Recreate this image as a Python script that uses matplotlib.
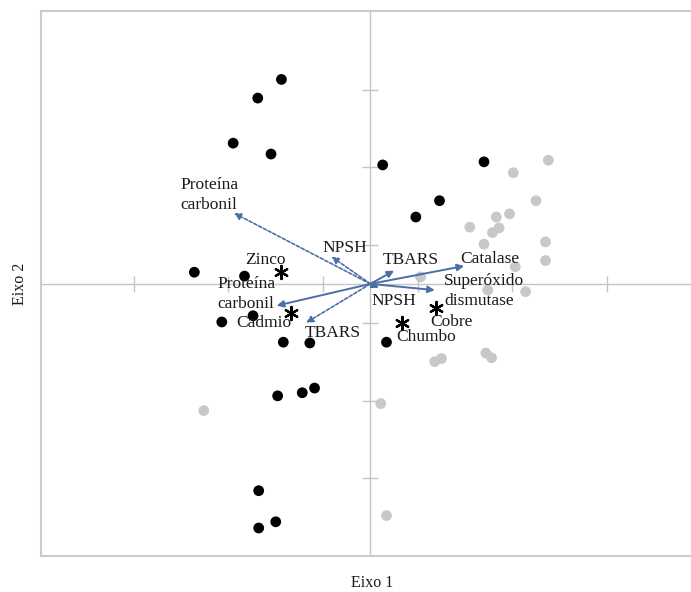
import matplotlib.pyplot as plt

plt.rcParams['font.family'] = ['Liberation Serif', 'DejaVu Serif']

# grupo 1 (pontos pretos)
grupo1_x = [-0.94, -1.19, -1.45, -1.05, 0.13, 1.20, 0.73, 0.48, -1.86, -1.33, -1.24,
            -1.57, -0.92, -0.64, 0.17, -0.98, -0.72, -0.59, -1.18, -1.00, -1.18]
grupo1_y = [2.63, 2.39, 1.81, 1.67, 1.53, 1.57, 1.07, 0.86, 0.15, 0.10, -0.41,
            -0.49, -0.75, -0.76, -0.75, -1.44, -1.40, -1.34, -2.66, -3.06, -3.14]

# grupo 2 (pontos cinza)
grupo2_x = [1.88, 1.51, 1.75, 1.47, 1.33, 1.05, 1.36, 1.29, 1.20, 1.85, 1.85,
            1.53, 1.64, 1.24, 0.53, 0.68, 0.75, 1.22, 1.28, 0.11, 0.17, -1.76]
grupo2_y = [1.59, 1.43, 1.07, 0.90, 0.86, 0.73, 0.72, 0.66, 0.51, 0.54, 0.30,
            0.22, -0.10, -0.08, 0.09, -1.00, -0.96, -0.89, -0.95, -1.54, -2.98, -1.63]

# metais (variaveis suplementares)
metais = ['Zinco', 'Cadmio', 'Cobre', 'Chumbo']
metais_x = [-0.94, -0.84, 0.69, 0.33]
metais_y = [0.15, -0.37, -0.31, -0.50]

# vetores das variaveis
vars_solidas = ['Proteína\ncarbonil', 'Catalase', 'Superóxido\ndismutase', 'TBARS', 'NPSH']
sol_x = [-0.99, 0.99, 0.68, 0.25, 0.09]
sol_y = [-0.28, 0.23, -0.08, 0.17, -0.05]

vars_tracejadas = ['Proteína\ncarbonil', 'NPSH', 'TBARS']
tra_x = [-1.44, -0.41, -0.68]
tra_y = [0.91, 0.35, -0.50]

# posicao dos rotulos (canto esquerdo, centro vertical)
rot_sol = [(-1.62, -0.13), (0.95, 0.32), (0.78, -0.09), (0.13, 0.31), (0.01, -0.22)]
rot_tra = [(-2.01, 1.14), (-0.51, 0.46), (-0.69, -0.63)]
rot_met = [(-1.32, 0.31), (-1.42, -0.50), (0.63, -0.49), (0.27, -0.68)]

ticks = [-2.5, -1.5, -0.5, 0.5, 1.5, 2.5]

azul = '#4a6fa8'
cinza_eixo = '#c4c4c4'
cor_texto = '#1a1a1a'

fig = plt.figure(figsize=(6.91, 5.92), dpi=100)
ax = fig.add_axes([41 / 691, 36 / 592, 1 - 41 / 691 + 0.01, 545 / 592])
ax.set_xlim(-3.48, 3.46)
ax.set_ylim(-3.50, 3.51)

for s in ['left', 'top', 'bottom']:
    ax.spines[s].set_color('#cccccc')
    ax.spines[s].set_linewidth(1.5)
ax.spines['right'].set_visible(False)
ax.set_xticks([])
ax.set_yticks([])

ax.axhline(0, color=cinza_eixo, lw=1, zorder=0)
ax.axvline(0, color=cinza_eixo, lw=1, zorder=0)
ax.plot(ticks, [0] * len(ticks), ls='none', marker='|', ms=12, mew=1, color=cinza_eixo, zorder=0)
ax.plot([0] * len(ticks), ticks, ls='none', marker='_', ms=12, mew=1, color=cinza_eixo, zorder=0)

ax.scatter(grupo2_x, grupo2_y, s=60, color='#c8c8c8', edgecolors='none', zorder=2)
ax.scatter(grupo1_x, grupo1_y, s=60, color='black', edgecolors='none', zorder=3)
ax.scatter(metais_x, metais_y, s=90, marker=(6, 2, 0), color='black', linewidths=1.6, zorder=4)

for x, y in zip(sol_x, sol_y):
    ax.annotate('', xy=(x, y), xytext=(0, 0),
                arrowprops=dict(arrowstyle='-|>', color=azul, lw=1.4,
                                mutation_scale=10, shrinkA=0, shrinkB=0), zorder=5)
for x, y in zip(tra_x, tra_y):
    ax.annotate('', xy=(x, y), xytext=(0, 0),
                arrowprops=dict(arrowstyle='-|>', color=azul, lw=1.2, linestyle=(0, (2, 1.2)),
                                mutation_scale=10, shrinkA=0, shrinkB=0), zorder=5)

fs = 12.5
for nome, (x, y) in zip(vars_solidas, rot_sol):
    ax.text(x, y, nome, fontsize=fs, ha='left', va='center', color=cor_texto, linespacing=1.3, zorder=6)
for nome, (x, y) in zip(vars_tracejadas, rot_tra):
    ax.text(x, y, nome, fontsize=fs, ha='left', va='center', color=cor_texto, linespacing=1.3, zorder=6)
for nome, (x, y) in zip(metais, rot_met):
    ax.text(x, y, nome, fontsize=fs, ha='left', va='center', color=cor_texto, zorder=6)

fig.text(372 / 691, 1 - 583 / 592, 'Eixo 1', ha='center', va='center', fontsize=11.5, color=cor_texto)
fig.text(20 / 691, 1 - 284 / 592, 'Eixo 2', ha='center', va='center', rotation=90, fontsize=11.5, color=cor_texto)

fig.savefig('out.png', dpi=100)
